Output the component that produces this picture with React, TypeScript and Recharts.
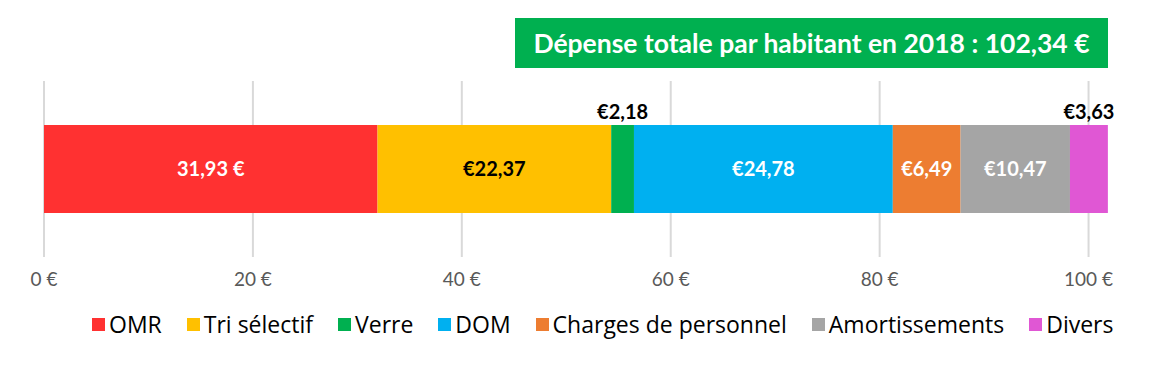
import React from 'react';
import { BarChart, Bar, XAxis, YAxis, CartesianGrid, Legend, LabelList } from 'recharts';

const categories = ['2018'];
const seriesNames = ['OMR', 'Tri sélectif', 'Verre', 'DOM', 'Charges de personnel', 'Amortissements', 'Divers'];
const seriesValues = [31.93, 22.37, 2.18, 24.78, 6.49, 10.47, 3.63];
const xTicks = [0, 20, 40, 60, 80, 100];
const xMax = 102.34;
const title = 'Dépense totale par habitant en 2018 : 102,34 €';

const colors = ['#FF3131', '#FFC000', '#00B050', '#00B0F0', '#ED7D31', '#A5A5A5', '#E057D4'];
const labelColors = ['#fff', '#000', '#000', '#fff', '#fff', '#fff', '#000'];
const labelPos = ['center', 'center', 'top', 'center', 'center', 'center', 'top'];

const keys = seriesNames.map((_, i) => `s${i}`);
const data = categories.map((name) => {
  const row: any = { name };
  keys.forEach((k, i) => (row[k] = seriesValues[i]));
  return row;
});

const fr = (v: number) => v.toFixed(2).replace('.', ',');
const fmt = (i: number) => (v: any) => (i === 0 ? `${fr(v)} €` : `€${fr(v)}`);

const font = 'Lato, "Open Sans", sans-serif';

// grid lines only at the tick values (not at the domain end)
const gridX = ({ xAxis, offset }: any) => {
  const s = xAxis?.scale;
  if (typeof s === 'function') return xTicks.map((t) => s(t));
  return xTicks.map((t) => offset.left + (t / xMax) * offset.width);
};

function LegendContent() {
  return (
    <div style={{ display: 'flex', alignItems: 'center', gap: 25, fontFamily: '"Open Sans", sans-serif', fontSize: 23, color: '#000' }}>
      {seriesNames.map((n, i) => (
        <div key={n} style={{ display: 'flex', alignItems: 'center' }}>
          <span style={{ width: 13, height: 13, background: colors[i], display: 'inline-block', marginRight: 4 }} />
          <span>{n}</span>
        </div>
      ))}
    </div>
  );
}

export default function App() {
  return (
    <div style={{ position: 'absolute', left: 0, top: 0, width: 1173, height: 368, background: '#fff' }}>
      <div
        style={{
          position: 'absolute', left: 515, top: 18, width: 593, height: 50, background: '#00B050',
          color: '#fff', fontFamily: font, fontWeight: 700, fontSize: 26.5,
          display: 'flex', alignItems: 'center', justifyContent: 'center', zIndex: 2,
        }}
      >
        {title}
      </div>
      <BarChart
        width={1173}
        height={368}
        data={data}
        layout="vertical"
        margin={{ top: 81, right: 60, bottom: 81, left: 44 }}
      >
        <CartesianGrid horizontal={false} stroke="#d9d9d9" strokeWidth={2} verticalCoordinatesGenerator={gridX} />
        <XAxis
          type="number"
          domain={[0, xMax]}
          ticks={xTicks}
          tickFormatter={(v) => `${v} €`}
          axisLine={false}
          tickLine={false}
          tickMargin={10}
          height={30}
          tick={{ fill: '#595959', fontSize: 19, fontFamily: font }}
        />
        <YAxis type="category" dataKey="name" hide />
        <Legend
          layout="horizontal"
          verticalAlign="middle"
          align="center"
          wrapperStyle={{ top: 308, left: 92, width: 'auto' }}
          content={<LegendContent />}
        />
        {keys.map((k, i) => (
          <Bar key={k} dataKey={k} name={seriesNames[i]} stackId="a" fill={colors[i]} barSize={88} isAnimationActive={false}>
            <LabelList
              dataKey={k}
              position={labelPos[i] as any}
              offset={6}
              formatter={fmt(i)}
              fill={labelColors[i]}
              style={{ fontFamily: font, fontWeight: 700, fontSize: 20 }}
            />
          </Bar>
        ))}
      </BarChart>
    </div>
  );
}
